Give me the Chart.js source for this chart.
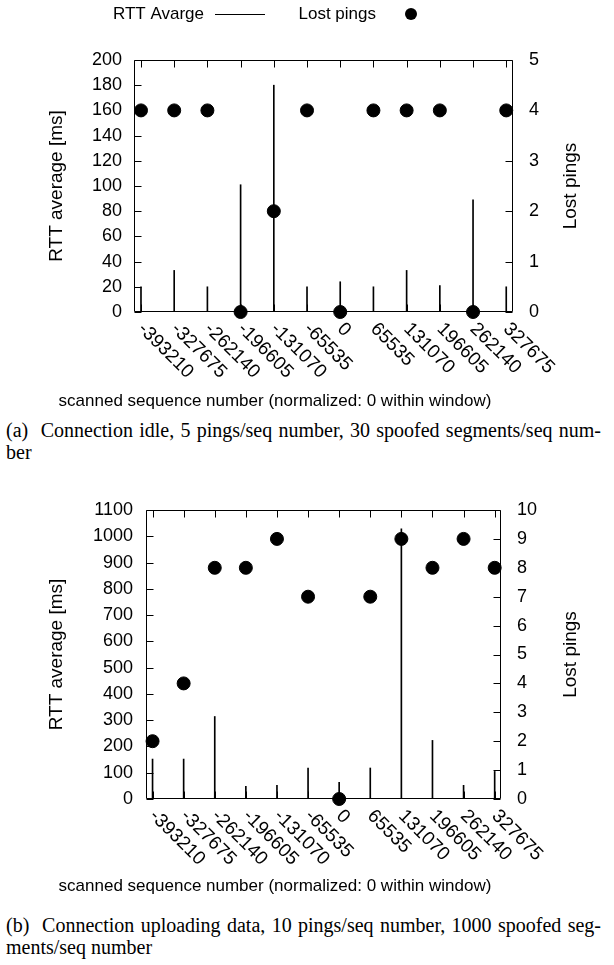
<!DOCTYPE html>
<html>
<head>
<meta charset="utf-8">
<script src="https://cdn.jsdelivr.net/npm/chart.js@4"></script>
<style>
  body { margin: 0; background: #fff; }
  #page { position: relative; width: 614px; height: 965px; overflow: hidden; }
  canvas { position: absolute; left: 0; }
  .caption {
    position: absolute; left: 6px; width: 595px;
    font-family: "Liberation Serif", "Times New Roman", serif;
    font-size: 20px; line-height: 22px; color: #000;
  }
  .caption .full { text-align: justify; text-align-last: justify; white-space: nowrap; }
</style>
</head>
<body>
<div id="page">
  <canvas id="chartIdle" width="614" height="415" style="top:0"></canvas>
  <div class="caption" style="top:419px">
    <div class="full">(a)&nbsp; Connection idle, 5 pings/seq number, 30 spoofed segments/seq num-</div>
    <div>ber</div>
  </div>
  <canvas id="chartUpload" width="614" height="420" style="top:480px"></canvas>
  <div class="caption" style="top:914px">
    <div class="full">(b)&nbsp; Connection uploading data, 10 pings/seq number, 1000 spoofed seg-</div>
    <div>ments/seq number</div>
  </div>
</div>
<script>
// scanned sequence numbers (x categories)
const seqNumbers = [-393210, -327675, -262140, -196605, -131070, -65535, 0, 65535, 131070, 196605, 262140, 327675];
const seqLabels = ["-393210", "-327675", "-262140", "-196605", "-131070", "-65535", "0", "65535", "131070", "196605", "262140", "327675"];

// (a) connection idle
const idleRtt = [20, 33, 20, 101, 180, 20, 24, 20, 33, 21, 89, 20];
const idleLost = [4, 4, 4, 0, 2, 4, 0, 4, 4, 4, 0, 4];

// (b) connection uploading data
const uploadRtt = [152, 152, 314, 48, 52, 118, 63, 118, 1028, 223, 52, 105];
const uploadLost = [2, 4, 8, 8, 9, 7, 0, 7, 9, 8, 9, 8];

const FONT = '"Liberation Sans", Arial, Helvetica, sans-serif';

// gnuplot style frame: box, inward tics, rotated x labels, titles, legend
const gnuplotFrame = {
  id: 'gnuplotFrame',
  beforeDatasetsDraw(chart, args, o) {
    const { ctx, chartArea: a } = chart;
    const xs = chart.scales.x, ys = chart.scales.y, y2 = chart.scales.y2;
    const L = Math.round(a.left) + 0.5, R = Math.round(a.right) - 0.5;
    const T = Math.round(a.top) + 0.5, B = Math.round(a.bottom) - 0.5;
    ctx.save();
    ctx.strokeStyle = '#000';
    ctx.lineWidth = 1;
    ctx.beginPath();
    ctx.rect(L, T, R - L, B - T);
    // x tics, mirrored on top
    xs.ticks.forEach(t => {
      const px = Math.round(xs.getPixelForValue(t.value)) + 0.5;
      ctx.moveTo(px, B); ctx.lineTo(px, B - o.ticLen);
      ctx.moveTo(px, T); ctx.lineTo(px, T + o.ticLen);
    });
    // left tics
    ys.ticks.forEach(t => {
      const py = Math.round(ys.getPixelForValue(t.value)) + 0.5;
      ctx.moveTo(L, py); ctx.lineTo(L + o.ticLen, py);
    });
    // right tics
    y2.ticks.forEach(t => {
      const py = Math.round(y2.getPixelForValue(t.value)) + 0.5;
      ctx.moveTo(R, py); ctx.lineTo(R - o.ticLen, py);
    });
    ctx.stroke();
    ctx.restore();
  },
  afterDraw(chart, args, o) {
    const { ctx, chartArea: a } = chart;
    const xs = chart.scales.x, y2 = chart.scales.y2;
    ctx.save();
    ctx.fillStyle = '#000';
    ctx.font = '19px ' + FONT;
    ctx.textAlign = 'left';
    ctx.textBaseline = 'middle';
    // rotated x tick labels
    xs.ticks.forEach((t, i) => {
      const px = xs.getPixelForValue(t.value);
      ctx.save();
      ctx.translate(px + o.labelDx, a.bottom + o.labelDy);
      ctx.rotate(Math.PI / 4);
      ctx.fillText(seqLabels[i], 0, 0);
      ctx.restore();
    });
    // x axis title
    ctx.font = '17px ' + FONT;
    ctx.textAlign = 'center';
    ctx.fillText(xs.options.title.text, o.xTitleX, o.xTitleY);
    // right axis title, reads bottom to top
    ctx.save();
    ctx.font = '19px ' + FONT;
    ctx.translate(o.y2TitleX, (a.top + a.bottom) / 2);
    ctx.rotate(-Math.PI / 2);
    ctx.fillText(y2.options.title.text, 0, 0);
    ctx.restore();
    // legend: text then sample
    if (o.legend) {
      const ds = chart.data.datasets;
      const rtt = ds.find(d => d.type === 'bar');
      const lost = ds.find(d => d.type === 'scatter');
      ctx.textAlign = 'right';
      ctx.fillText(rtt.label, 204, 14);
      ctx.fillText(lost.label, 376, 14);
      ctx.strokeStyle = '#000';
      ctx.lineWidth = 1;
      ctx.beginPath();
      ctx.moveTo(215, 14.5); ctx.lineTo(265, 14.5);
      ctx.stroke();
      ctx.beginPath();
      ctx.arc(411, 14, 6, 0, Math.PI * 2);
      ctx.fill();
    }
    ctx.restore();
  }
};

function makeChart(id, rtt, lost, cfg) {
  return new Chart(document.getElementById(id), {
    type: 'bar',
    data: {
      datasets: [
        {
          type: 'scatter',
          label: 'Lost pings',
          data: seqNumbers.map((x, i) => ({ x: x, y: lost[i] })),
          yAxisID: 'y2',
          backgroundColor: '#000',
          borderColor: '#000',
          pointRadius: 6.5,
          pointHoverRadius: 6.5,
          showLine: false,
          clip: false,
          order: 0
        },
        {
          type: 'bar',
          label: 'RTT Avarge',
          data: seqNumbers.map((x, i) => ({ x: x, y: rtt[i] })),
          yAxisID: 'y',
          backgroundColor: '#000',
          borderWidth: 0,
          barThickness: 1,
          order: 1
        }
      ]
    },
    options: {
      responsive: false,
      animation: false,
      devicePixelRatio: 1,
      layout: { padding: { top: cfg.top, left: 0, right: 0, bottom: 0 } },
      plugins: {
        legend: { display: false },
        tooltip: { enabled: false },
        gnuplotFrame: {
          ticLen: 7,
          labelDx: 0,
          labelDy: 14,
          xTitleX: 275,
          xTitleY: cfg.xTitleY,
          y2TitleX: 571,
          legend: cfg.legend
        }
      },
      scales: {
        x: {
          type: 'linear',
          position: 'bottom',
          min: -407000,
          max: 341000,
          offset: false,
          afterBuildTicks: s => { s.ticks = seqNumbers.map(v => ({ value: v })); },
          afterFit: s => { s.height = cfg.xHeight; },
          ticks: { display: false },
          grid: { display: false, drawTicks: false },
          border: { display: false },
          title: { display: false, text: 'scanned sequence number (normalized: 0 within window)' }
        },
        y: {
          position: 'left',
          min: 0,
          max: cfg.rttMax,
          afterFit: s => { s.width = cfg.left; },
          ticks: {
            stepSize: cfg.rttStep, color: '#000', font: { family: FONT, size: 18 }, padding: cfg.leftPad,
            callback: v => String(v)
          },
          grid: { display: false, drawTicks: false },
          border: { display: false },
          title: {
            display: true,
            text: 'RTT average [ms]',
            color: '#000',
            font: { family: FONT, size: 19 },
            padding: { top: 45, bottom: 0 }
          }
        },
        y2: {
          position: 'right',
          min: 0,
          max: cfg.lostMax,
          afterFit: s => { s.width = cfg.right; },
          ticks: {
            stepSize: 1, color: '#000', font: { family: FONT, size: 18 }, padding: 16,
            callback: v => String(v)
          },
          grid: { display: false, drawTicks: false },
          border: { display: false },
          title: { display: false, text: 'Lost pings' }
        }
      }
    },
    plugins: [gnuplotFrame]
  });
}

makeChart('chartIdle', idleRtt, idleLost, {
  top: 60, xHeight: 103, left: 134, right: 101, leftPad: 12,
  rttMax: 200, rttStep: 20, lostMax: 5, xTitleY: 401, legend: true
});

makeChart('chartUpload', uploadRtt, uploadLost, {
  top: 30, xHeight: 101, left: 146, right: 113, leftPad: 13,
  rttMax: 1100, rttStep: 100, lostMax: 10, xTitleY: 406, legend: false
});
</script>
</body>
</html>
